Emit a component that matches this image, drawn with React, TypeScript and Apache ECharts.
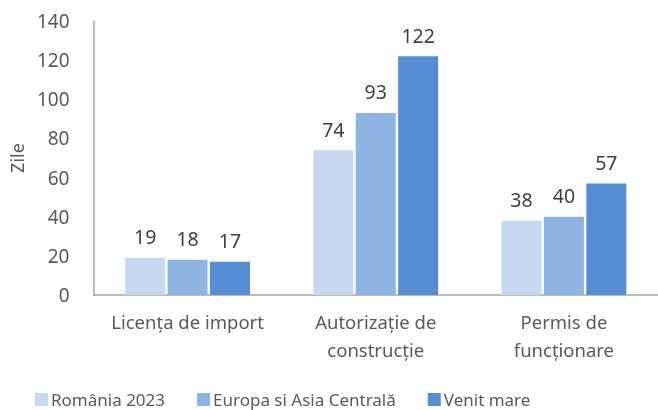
import React, { useEffect, useRef } from "react";
import * as echarts from "echarts";

const categories = ["Licența de import", "Autorizație de\nconstrucție", "Permis de\nfuncționare"];
const seriesNames = ["România 2023", "Europa si Asia Centrală", "Venit mare"];
const romania = [19, 74, 38];
const europa = [18, 93, 40];
const venit = [17, 122, 57];
const colors = ["#C6D9F1", "#8EB4E3", "#558ED5"];

export default function App() {
  const ref = useRef<HTMLDivElement>(null);
  useEffect(() => {
    const chart = echarts.init(ref.current!, undefined, { renderer: "svg" });
    const font = "'Noto Sans', sans-serif";
    const mk = (name: string, data: number[], color: string) => ({
      name,
      type: "bar",
      data,
      barWidth: 40,
      barGap: "6%",
      itemStyle: { color },
      label: { show: true, position: "top", color: "#404040", fontSize: 19.5, fontFamily: font, distance: 11 },
    });
    chart.setOption({
      animation: false,
      grid: { left: 89, top: 21, right: 0, bottom: 115 },
      legend: {
        top: 386,
        left: 30,
        itemWidth: 13,
        itemHeight: 13,
        itemGap: 32,
        icon: "rect",
        textStyle: { color: "#595959", fontSize: 17, fontFamily: font, padding: [0, 0, 0, -2] },
        data: seriesNames,
      },
      xAxis: {
        type: "category",
        data: categories,
        axisLine: { lineStyle: { color: "#A6A6A6", width: 1.5 } },
        axisTick: { show: false },
        axisLabel: { color: "#595959", fontSize: 18.5, fontFamily: font, margin: 12, lineHeight: 28, interval: 0 },
      },
      yAxis: {
        type: "value",
        min: 0,
        max: 140,
        interval: 20,
        name: "Zile",
        nameLocation: "middle",
        nameGap: 58,
        nameRotate: 90,
        nameTextStyle: { color: "#595959", fontSize: 18, fontFamily: font },
        axisLine: { show: true, lineStyle: { color: "#A6A6A6", width: 1.5 } },
        axisTick: { show: false },
        splitLine: { show: false },
        axisLabel: { color: "#595959", fontSize: 19, fontFamily: font, margin: 24 },
      },
      series: [mk(seriesNames[0], romania, colors[0]), mk(seriesNames[1], europa, colors[1]), mk(seriesNames[2], venit, colors[2])],
    });
    return () => chart.dispose();
  }, []);
  return <div ref={ref} style={{ position: "fixed", left: 0, top: 0, width: 658, height: 410 }} />;
}
